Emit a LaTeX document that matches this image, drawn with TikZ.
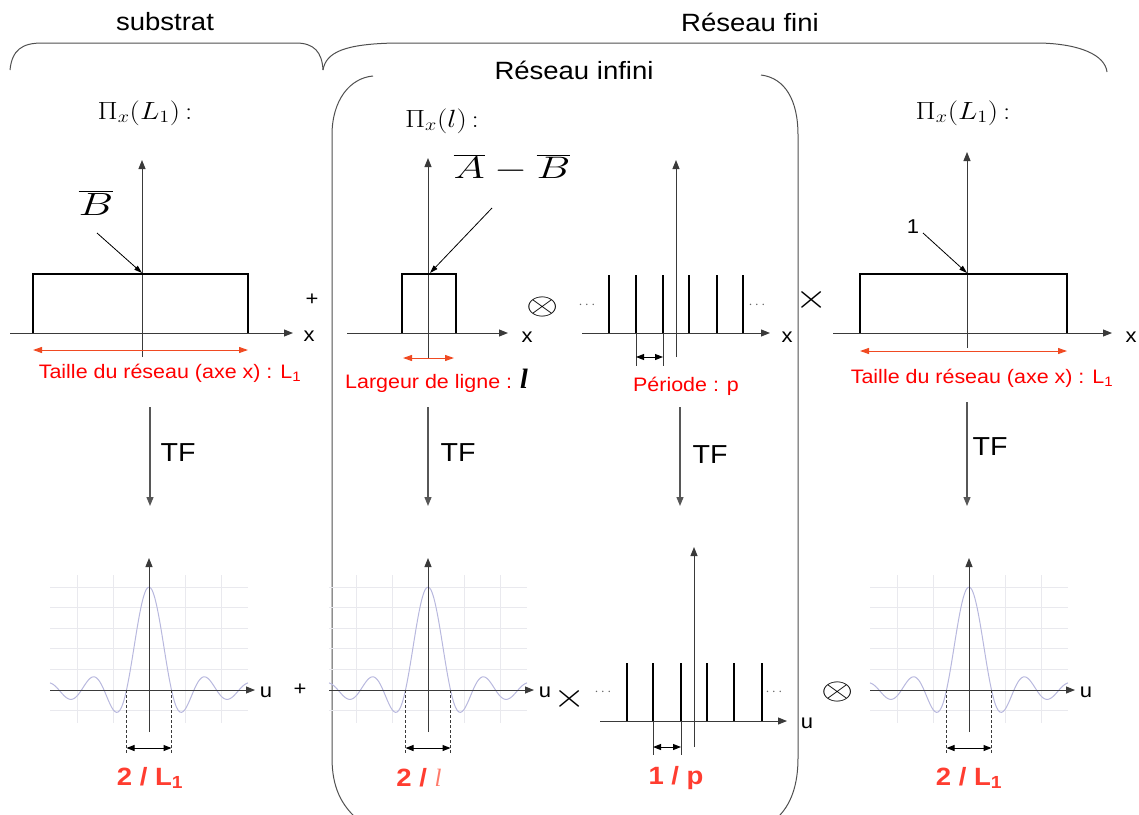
\documentclass[tikz,border=0pt]{standalone}
\usepackage{fontspec}
\setmainfont{Liberation Sans}[FakeStretch=1.1]
\newfontfamily\seriffam{Liberation Serif}
\usetikzlibrary{arrows.meta}
\definecolor{lblred}{HTML}{FF0000}
\definecolor{arrred}{HTML}{F04A22}
\definecolor{botred}{HTML}{FF3D30}
\definecolor{lred}{HTML}{FF7A6A}
\definecolor{sinccol}{HTML}{B8B8DE}
\definecolor{gridcol}{HTML}{E9E9EE}
\definecolor{axcol}{HTML}{3A3A3A}
\definecolor{brcol}{HTML}{505050}
\newcommand\fs[1]{\fontsize{#1}{#1}\selectfont}
\begin{document}
\begin{tikzpicture}[x=1pt,y=-1pt,
  axisline/.style={axcol, line width=1pt, -{Triangle[length=9pt,width=7pt]}},
  rectline/.style={black, line width=2pt},
  impline/.style={black, line width=2.2pt},
  redarr/.style={arrred, line width=1pt, {Triangle[length=9pt,width=6pt]}-{Triangle[length=9pt,width=6pt]}},
  dimarr/.style={black, line width=1pt, {Triangle[length=8pt,width=6pt]}-{Triangle[length=8pt,width=6pt]}},
  ptrarr/.style={black, line width=0.8pt, -{Triangle[length=8pt,width=5pt]}},
  tfarr/.style={axcol!85, line width=1.2pt, -{Triangle[length=9pt,width=7pt]}},
  gridline/.style={gridcol, line width=1pt},
  sinccurve/.style={sinccol, line width=1pt},
  braceline/.style={brcol, line width=1pt},
  thinline/.style={axcol, line width=0.8pt},
  dashline/.style={axcol, line width=1pt, dash pattern=on 3pt off 2pt},
  redlbl/.style={text=lblred, font=\fs{19.5}, inner sep=0},
  titlelbl/.style={font=\fs{25}, inner sep=0},
  botlbl/.style={text=botred, font=\fs{25}\bfseries, inner sep=0},
  axlbl/.style={font=\fs{20}, inner sep=0},
  mathlbl/.style={font=\fs{20.74}, inner sep=0},
  dotlbl/.style={text=black!60, font=\fs{14}, inner sep=0},
  tflbl/.style={font=\fs{26}, inner sep=0},
  sincplot/.pic={
    \foreach \g in {-103,-83,-62,-42,-21,20}
      \draw[gridline] (-99,\g) -- (99,\g);
    \foreach \g in {-72,-36,36,72}
      \draw[gridline] (\g,-115) -- (\g,33);
    \draw[sinccurve] plot[domain=-99:99, samples=120, smooth]
      (\x, {-103*sin(8*\x)/(0.139626*\x)});
    \draw[axisline] (-99,0) -- (106,0);
    \draw[axisline] (0,42) -- (0,-132);
    \draw[dashline] (-22.5,0) -- (-22.5,63);
    \draw[dashline] (22.5,0) -- (22.5,63);
    \draw[dimarr] (-22.5,58) -- (22.5,58);
    \node[axlbl] at (117,2) {u};
  }
]
\useasboundingbox (0,0) rectangle (1139,814);

% ---------- braces and bracket ----------
\node[titlelbl] (tsub) at (165,22) {substrat};
\node[titlelbl] (tfini) at (750,22) {Réseau fini};
\node[titlelbl] (tinf) at (574,70) {Réseau infini};
\coordinate (bA) at (10,70);
\coordinate (bM) at (323,70);
\coordinate (bB) at (1107,72);
\draw[braceline] (bA) .. controls (12,50) and (22,43) .. (42,43) -- (296,43)
  .. controls (314,43) and (322,52) .. (bM);
\draw[braceline] (bM) .. controls (326,52) and (345,44) .. (395,43) -- (1040,43)
  .. controls (1080,44) and (1105,55) .. (bB);
\draw[braceline] (373,76) .. controls (350,78) and (332,100) .. (332,135) -- (332,758)
  .. controls (332,788) and (342,805) .. (356,818);
\draw[braceline] (761,75) .. controls (785,78) and (798,100) .. (798,135) -- (798,758)
  .. controls (798,785) and (791,805) .. (777,818);

% ---------- panel 1 (top) ----------
\node[mathlbl] (pi1) at (145,113) {\scalebox{1.4}[1.2]{$\Pi_x(L_1)\,{:}$}};
\draw[axisline] (142,357) -- (142,160);
\draw[axisline] (10,333) -- (293,333);
\node[axlbl] (x1) at (309,336) {x};
\draw[rectline] (33,333) -- (33,274) -- (248,274) -- (248,333);
\node[mathlbl] (B1) at (96,203) {\scalebox{2.1}[1.55]{$\overline{B}$}};
\coordinate (p1) at (142,273);
\draw[ptrarr] (97,233) -- (p1);
\draw[redarr] (33,350) -- (248,350);
\node[redlbl] (t1) at (170,373) {Taille du réseau (axe x) : L\textsubscript{1}};
\node[axlbl] (plus1) at (312,300) {+};

% ---------- panel 2 (top) ----------
\node[mathlbl] (pi2) at (442,121) {\scalebox{1.4}[1.2]{$\Pi_x(l)\,{:}$}};
\draw[axisline] (428,358) -- (428,158);
\draw[axisline] (347,333) -- (508,333);
\node[axlbl] (x2) at (527,337) {x};
\draw[rectline] (402,333) -- (402,274) -- (456,274) -- (456,333);
\node[mathlbl] (AB) at (512,168) {\scalebox{2.05}[1.5]{$\overline{A}-\overline{B}$}};
\coordinate (p2) at (430,273);
\draw[ptrarr] (492,208) -- (p2);
\draw[redarr] (403,358) -- (454,358);
\node[redlbl, anchor=west] (t2) at (345,381) {Largeur de ligne : {\fs{28}\seriffam\bfseries\itshape\color{black}l}};
\node[mathlbl] (conv1) at (543,307) {\scalebox{2.0}[1.45]{$\otimes$}};

% ---------- panel 3 (top) ----------
\draw[axisline] (676,357) -- (676,160);
\draw[axisline] (582,333) -- (770,333);
\node[axlbl] (x3) at (787,337) {x};
\foreach \xx in {609,636,663,689,717,743}
  \draw[impline] (\xx,333) -- (\xx,275);
\node[dotlbl] (d1) at (587,305) {$\cdots$};
\node[dotlbl] (d2) at (757,305) {$\cdots$};
\draw[thinline] (636,333) -- (636,366);
\draw[thinline] (663,333) -- (663,366);
\draw[dimarr] (636,357) -- (663,357);
\node[redlbl] (t3) at (686,386) {Période : p};
\node[mathlbl] (mul1) at (812,300) {\scalebox{2.0}[1.65]{$\times$}};

% ---------- panel 4 (top) ----------
\node[mathlbl] (pi4) at (963,113) {\scalebox{1.4}[1.2]{$\Pi_x(L_1)\,{:}$}};
\draw[axisline] (967,348) -- (967,152);
\draw[axisline] (833,333) -- (1112,333);
\node[axlbl] (x4) at (1131,337) {x};
\draw[rectline] (860,333) -- (860,274) -- (1067,274) -- (1067,333);
\node[axlbl] (one) at (913,227) {1};
\coordinate (p4) at (967,273);
\draw[ptrarr] (923,233) -- (p4);
\draw[redarr] (860,351) -- (1067,351);
\node[redlbl] (t4) at (982,378) {Taille du réseau (axe x) : L\textsubscript{1}};

% ---------- TF arrows ----------
\draw[tfarr] (150,407) -- (150,506);
\node[tflbl] (tf1) at (178,453) {TF};
\draw[tfarr] (428,407) -- (428,506);
\node[tflbl] (tf2) at (458,453) {TF};
\draw[tfarr] (680,407) -- (680,506);
\node[tflbl] (tf3) at (710,455) {TF};
\draw[tfarr] (967,402) -- (967,506);
\node[tflbl] (tf4) at (990,447) {TF};

% ---------- bottom panels ----------
\pic at (149,690) {sincplot};
\node[botlbl] (b1) at (150,778) {2 / L\textsubscript{1}};
\node[axlbl] (plus2) at (300,690) {+};

\pic at (428,690) {sincplot};
\node[botlbl] (b2) at (419,778) {2 / {\seriffam\mdseries\itshape\color{lred}l}};
\node[mathlbl] (mul2) at (570,699) {\scalebox{2.0}[1.65]{$\times$}};

\draw[axisline] (694,747) -- (694,547);
\draw[axisline] (600,721) -- (787,721);
\node[axlbl] (u3) at (807,723) {u};
\foreach \xx in {627,653,681,707,734,762}
  \draw[impline] (\xx,721) -- (\xx,663);
\node[dotlbl] (d3) at (603,692) {$\cdots$};
\node[dotlbl] (d4) at (774,692) {$\cdots$};
\draw[thinline] (653,721) -- (653,755);
\draw[thinline] (681,721) -- (681,755);
\draw[dimarr] (653,747) -- (681,747);
\node[botlbl] (b3) at (676,778) {1 / p};
\node[mathlbl] (conv2) at (838,692) {\scalebox{2.0}[1.45]{$\otimes$}};

\pic at (969,690) {sincplot};
\node[botlbl] (b4) at (969,778) {2 / L\textsubscript{1}};
\end{tikzpicture}
\end{document}
